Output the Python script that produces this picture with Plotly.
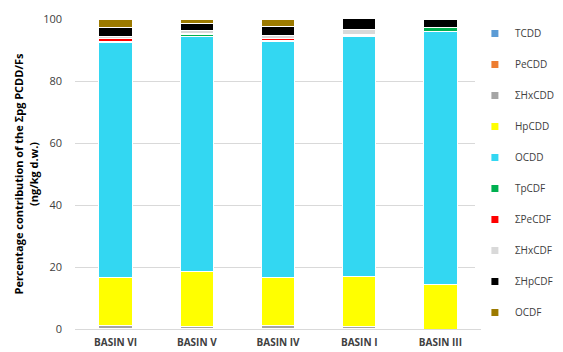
import plotly.graph_objects as go

categories = ["BASIN VI", "BASIN V", "BASIN IV", "BASIN I", "BASIN III"]
series_names = ["TCDD", "PeCDD", "ΣHxCDD", "HpCDD", "OCDD", "TpCDF", "ΣPeCDF", "ΣHxCDF", "ΣHpCDF", "OCDF"]
TCDD = [0.0, 0.0, 0.0, 0.0, 0.0]
PeCDD = [0.1, 0.1, 0.1, 0.1, 0.0]
HxCDD = [1.0, 0.6, 1.0, 0.8, 0.0]
HpCDD = [15.6, 17.9, 15.5, 15.9, 14.4]
OCDD = [75.6, 75.9, 76.1, 77.6, 81.5]
TpCDF = [0.4, 0.4, 0.5, 0.3, 1.4]
PeCDF = [0.9, 0.4, 0.5, 0.4, 0.0]
HxCDF = [0.9, 1.0, 1.0, 1.6, 0.0]
HpCDF = [2.6, 2.2, 3.0, 3.4, 2.7]
OCDF = [2.9, 1.5, 2.3, 0.0, 0.0]
colors = ["#5B9BD5", "#ED7D31", "#A5A5A5", "#FFFF00", "#33D7F2",
          "#00B050", "#FF0000", "#D9D9D9", "#000000", "#9C7A00"]

values = [TCDD, PeCDD, HxCDD, HpCDD, OCDD, TpCDF, PeCDF, HxCDF, HpCDF, OCDF]

fig = go.Figure()
for name, vals, col in zip(series_names, values, colors):
    fig.add_trace(go.Bar(
        x=categories, y=vals, name=name, marker_color=col,
        marker_line=dict(color="white", width=1), showlegend=False,
    ))
for i, (name, col) in enumerate(zip(series_names, colors)):
    fig.add_trace(go.Scatter(
        x=[None], y=[None], mode="markers", name=name,
        marker=dict(symbol="square", size=7, color=col),
        legendgroup=f"g{i}", showlegend=True,
    ))

fig.update_layout(
    width=563, height=352,
    barmode="stack", bargap=0.59,
    plot_bgcolor="white", paper_bgcolor="white",
    margin=dict(l=75, r=82, t=19, b=23, autoexpand=False),
    font=dict(family="Open Sans, Liberation Sans, sans-serif", color="#404040"),
    legend=dict(
        x=0.985, xanchor="left", y=1.0, yanchor="top",
        traceorder="grouped", tracegroupgap=12,
        font=dict(size=10, color="#404040"),
        itemwidth=30, maxheight=340,
    ),
    xaxis=dict(
        showline=True, linecolor="#D9D9D9", linewidth=1,
        tickfont=dict(size=10, color="#404040", family="Open Sans, sans-serif", weight="bold"),
        ticks="", ticklabelstandoff=4, automargin=False,
    ),
    yaxis=dict(
        range=[0, 100], tickvals=[0, 20, 40, 60, 80, 100],
        gridcolor="#D9D9D9", gridwidth=1, zeroline=False,
        tickfont=dict(size=11, color="#404040"),
        ticks="", ticklabelstandoff=12, automargin=False,
        title=dict(
            text="Percentage contribution of the Σpg PCDD/Fs<br>(ng/kg d.w.)",
            font=dict(size=11, color="#000000", weight="bold"),
            standoff=2,
        ),
    ),
)

fig.write_html("out.html")
